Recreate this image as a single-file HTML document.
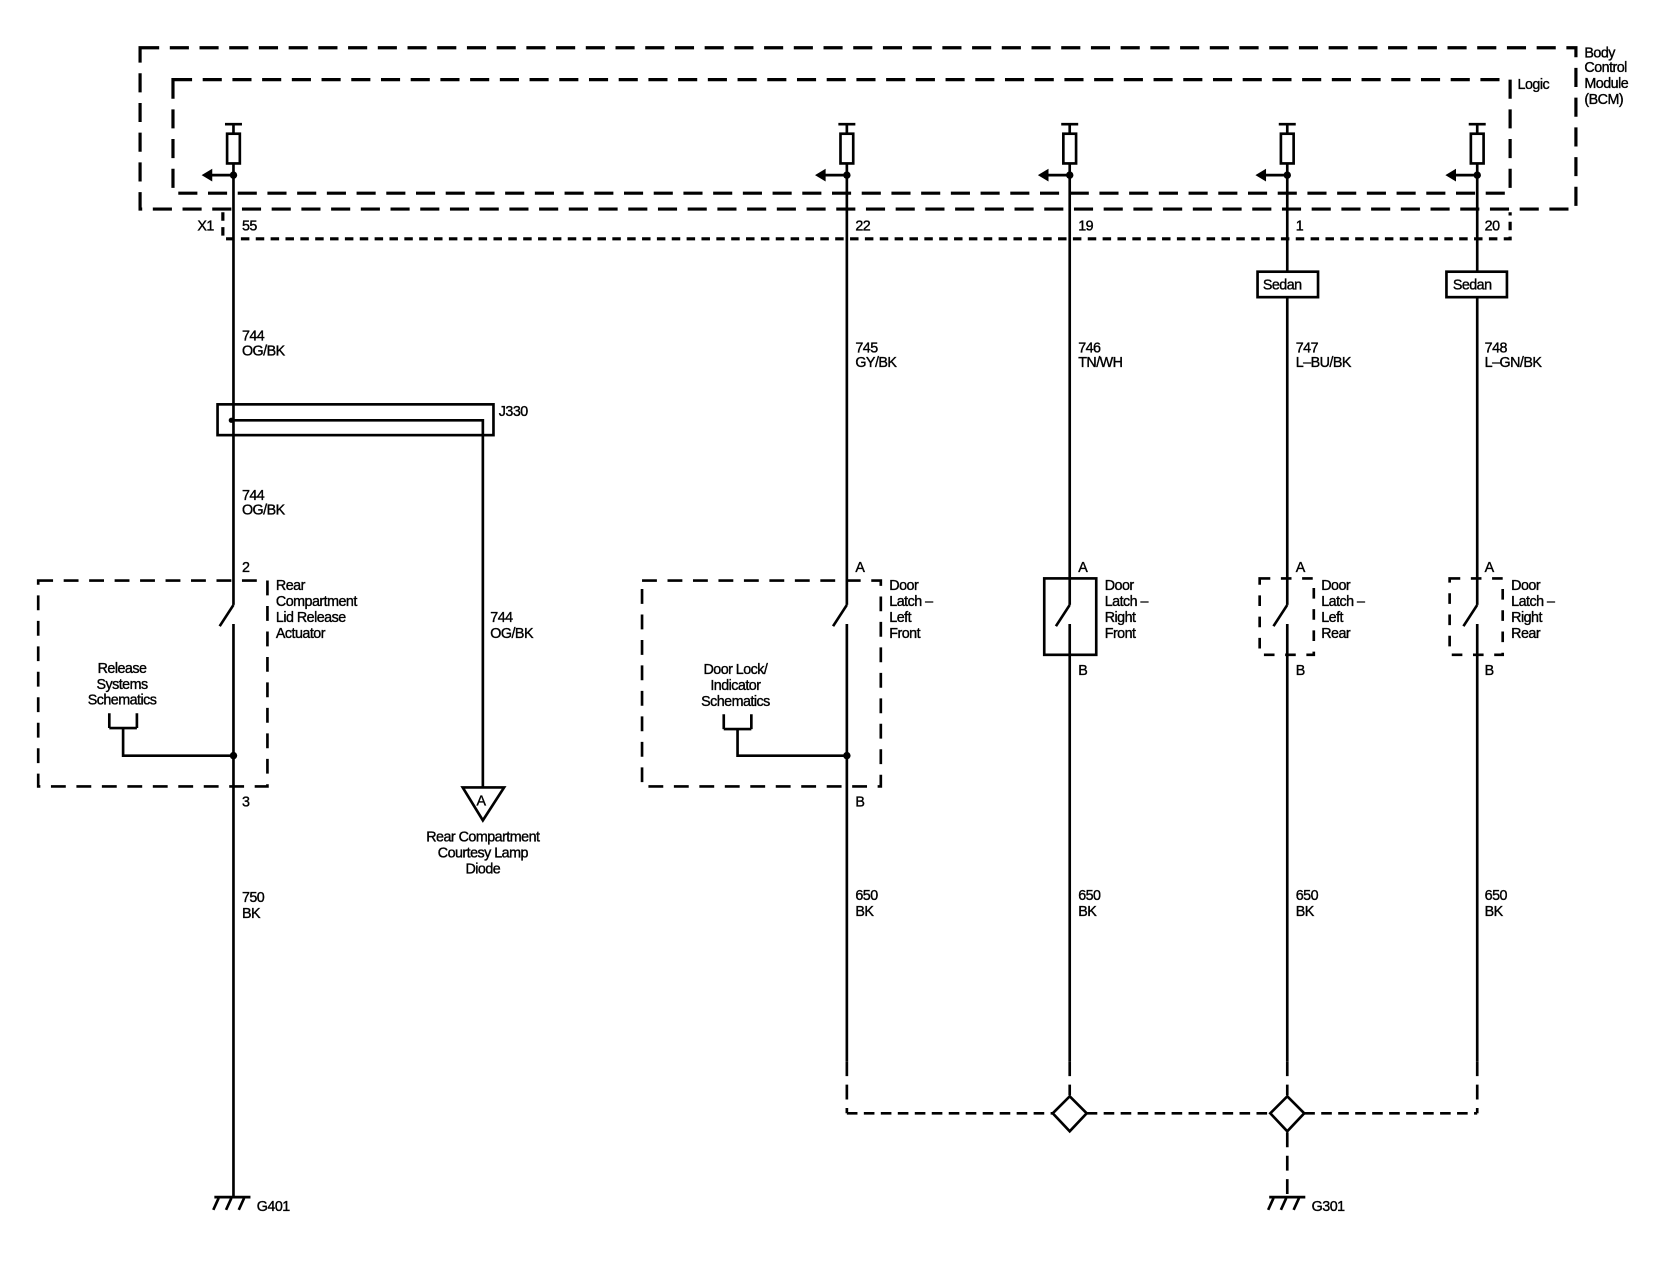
<!DOCTYPE html>
<html><head><style>
html,body{margin:0;padding:0;background:#fff}
svg{display:block}
text{font-family:"Liberation Sans",Arial,sans-serif;font-size:13.5px;fill:#000;letter-spacing:-0.5px;stroke:#000;stroke-width:0.35px}
</style></head><body>
<svg width="1664" height="1264" viewBox="0 0 1568 1191" preserveAspectRatio="none" xmlns="http://www.w3.org/2000/svg">
<g fill="none" stroke="#000" stroke-width="3">
<rect x="132" y="45" width="1353" height="152" stroke-dasharray="18,10"/>
<rect x="163" y="75" width="1260" height="107" stroke-dasharray="18,10"/>
<path d="M210 200 V225 H1423 V200" stroke-dasharray="8,6"/>
</g>
<g fill="none" stroke="#000" stroke-width="2.5">
<path d="M212 117 H228 M220 117 V126"/><rect x="214" y="126" width="12" height="28"/><path d="M220 154 V165 H198"/>
<path d="M790 117 H806 M798 117 V126"/><rect x="792" y="126" width="12" height="28"/><path d="M798 154 V165 H776"/>
<path d="M1000 117 H1016 M1008 117 V126"/><rect x="1002" y="126" width="12" height="28"/><path d="M1008 154 V165 H986"/>
<path d="M1205 117 H1221 M1213 117 V126"/><rect x="1207" y="126" width="12" height="28"/><path d="M1213 154 V165 H1191"/>
<path d="M1384 117 H1400 M1392 117 V126"/><rect x="1386" y="126" width="12" height="28"/><path d="M1392 154 V165 H1370"/>
</g>
<g fill="#000">
<circle cx="220" cy="165" r="3.5"/><circle cx="798" cy="165" r="3.5"/><circle cx="1008" cy="165" r="3.5"/><circle cx="1213" cy="165" r="3.5"/><circle cx="1392" cy="165" r="3.5"/>
<path d="M190 165 l10 -6 v12z"/><path d="M768 165 l10 -6 v12z"/><path d="M978 165 l10 -6 v12z"/><path d="M1183 165 l10 -6 v12z"/><path d="M1362 165 l10 -6 v12z"/>
<circle cx="220" cy="712" r="3.5"/><circle cx="798" cy="712" r="3.5"/><circle cx="218" cy="396" r="2.5"/>
</g>
<g fill="none" stroke="#000" stroke-width="2.5">
<path d="M220 165 V570 M220 588 V1128 M220 570 L207 590"/>
<rect x="205" y="381" width="260" height="29"/>
<path d="M218 396 H455 V742"/>
<path d="M436 742 H475 L455 773 Z"/>
<rect x="36" y="547" width="216" height="194" stroke-dasharray="14,10"/>
<path d="M103 686 V672 M129 686 V672 M103 686 H129 M116 686 V712 H220"/>
<path d="M798 165 V570 M798 588 V1000 M798 570 L785 590"/>
<path d="M798 1000 V1049" stroke-dasharray="14,8"/>
<rect x="605" y="547" width="225" height="194" stroke-dasharray="14,10"/>
<path d="M682 687 V673 M708 687 V673 M682 687 H708 M695 687 V712 H798"/>
<path d="M1008 165 V570 M1008 588 V1000 M1008 570 L995 590"/>
<path d="M1008 1000 V1032" stroke-dasharray="14,8"/>
<rect x="984" y="545" width="49" height="72"/>
<path d="M1213 165 V256 M1213 280 V570 M1213 588 V1000 M1213 570 L1200 590"/>
<path d="M1213 1000 V1032 M1213 1067 V1128" stroke-dasharray="14,8"/>
<rect x="1187" y="545" width="51" height="72" stroke-dasharray="10,10"/>
<rect x="1185" y="256" width="57" height="24"/>
<path d="M1392 165 V256 M1392 280 V570 M1392 588 V1000 M1392 570 L1379 590"/>
<path d="M1392 1000 V1049" stroke-dasharray="14,8"/>
<rect x="1366" y="545" width="50" height="72" stroke-dasharray="10,10"/>
<rect x="1363" y="256" width="57" height="24"/>
<path d="M798 1049 H992 M1024 1049 H1197 M1229 1049 H1392" stroke-dasharray="10,6"/>
<path d="M1008 1033 L1024 1049 L1008 1066 L992 1049 Z"/>
<path d="M1213 1033 L1229 1049 L1213 1066 L1197 1049 Z"/>
</g>
<g fill="none" stroke="#000" stroke-width="2.5">
<path d="M202 1128 H236 M206 1129 L201 1140 M218 1129 L213 1140 M230 1129 L225 1140"/>
<path d="M1196 1128 H1230 M1200 1129 L1195 1140 M1212 1129 L1207 1140 M1224 1129 L1219 1140"/>
</g>
<text x="1493" y="54">Body</text><text x="1493" y="68">Control</text><text x="1493" y="83">Module</text><text x="1493" y="98">(BCM)</text>
<text x="1430" y="84">Logic</text>
<text x="186" y="217">X1</text><text x="228" y="217">55</text><text x="806" y="217">22</text><text x="1016" y="217">19</text><text x="1221" y="217">1</text><text x="1399" y="217">20</text>
<text x="1190" y="273">Sedan</text><text x="1369" y="273">Sedan</text>
<text x="228" y="321">744</text><text x="228" y="335">OG/BK</text>
<text x="806" y="332">745</text><text x="806" y="346">GY/BK</text>
<text x="1016" y="332">746</text><text x="1016" y="346">TN/WH</text>
<text x="1221" y="332">747</text><text x="1221" y="346">L–BU/BK</text>
<text x="1399" y="332">748</text><text x="1399" y="346">L–GN/BK</text>
<text x="470" y="392">J330</text>
<text x="228" y="471">744</text><text x="228" y="485">OG/BK</text>
<text x="228" y="539">2</text>
<text x="260" y="556">Rear</text><text x="260" y="571">Compartment</text><text x="260" y="586">Lid Release</text><text x="260" y="601">Actuator</text>
<text x="462" y="586">744</text><text x="462" y="601">OG/BK</text>
<text x="115" y="634" text-anchor="middle">Release</text><text x="115" y="649" text-anchor="middle">Systems</text><text x="115" y="664" text-anchor="middle">Schematics</text>
<text x="228" y="760">3</text>
<text x="449" y="759">A</text>
<text x="455" y="793" text-anchor="middle">Rear Compartment</text><text x="455" y="808" text-anchor="middle">Courtesy Lamp</text><text x="455" y="823" text-anchor="middle">Diode</text>
<text x="228" y="850">750</text><text x="228" y="865">BK</text>
<text x="242" y="1141">G401</text>
<text x="806" y="539">A</text>
<text x="838" y="556">Door</text><text x="838" y="571">Latch –</text><text x="838" y="586">Left</text><text x="838" y="601">Front</text>
<text x="693" y="635" text-anchor="middle">Door Lock/</text><text x="693" y="650" text-anchor="middle">Indicator</text><text x="693" y="665" text-anchor="middle">Schematics</text>
<text x="806" y="760">B</text>
<text x="1016" y="539">A</text><text x="1016" y="636">B</text>
<text x="1041" y="556">Door</text><text x="1041" y="571">Latch –</text><text x="1041" y="586">Right</text><text x="1041" y="601">Front</text>
<text x="1221" y="539">A</text><text x="1221" y="636">B</text>
<text x="1245" y="556">Door</text><text x="1245" y="571">Latch –</text><text x="1245" y="586">Left</text><text x="1245" y="601">Rear</text>
<text x="1399" y="539">A</text><text x="1399" y="636">B</text>
<text x="1424" y="556">Door</text><text x="1424" y="571">Latch –</text><text x="1424" y="586">Right</text><text x="1424" y="601">Rear</text>
<text x="806" y="848">650</text><text x="806" y="863">BK</text>
<text x="1016" y="848">650</text><text x="1016" y="863">BK</text>
<text x="1221" y="848">650</text><text x="1221" y="863">BK</text>
<text x="1399" y="848">650</text><text x="1399" y="863">BK</text>
<text x="1236" y="1141">G301</text>
</svg>
</body></html>
